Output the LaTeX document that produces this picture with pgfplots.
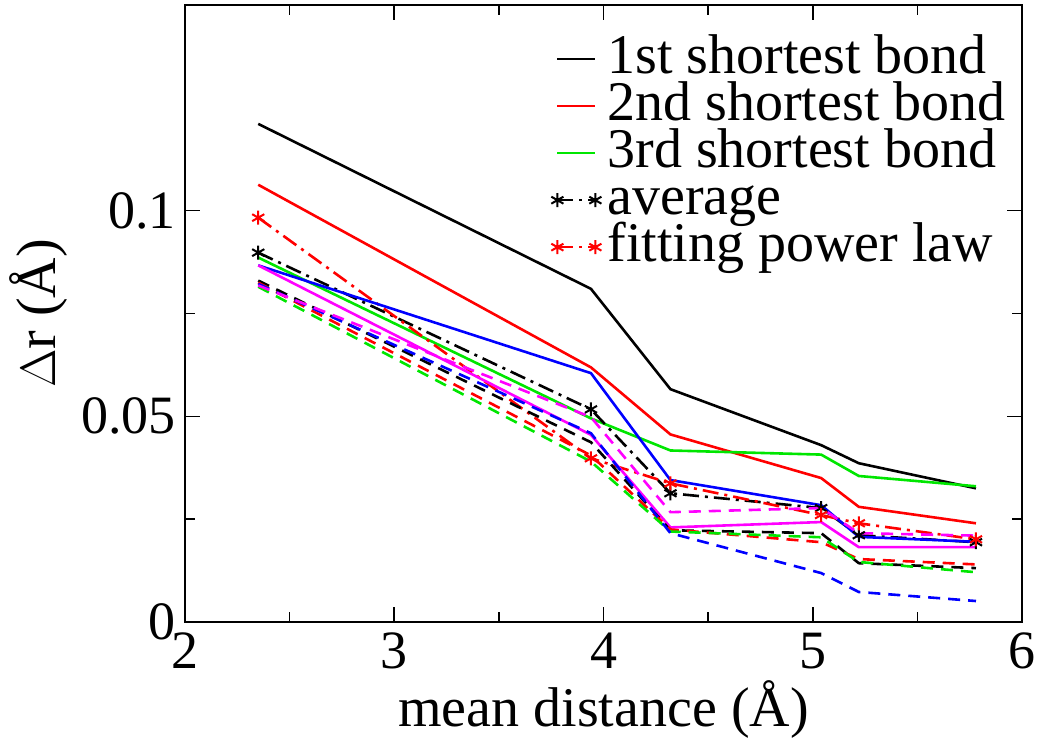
\documentclass[border=0pt]{standalone}
\usepackage{pgfplots}
\pgfplotsset{compat=1.18}
\usepackage{fontspec}
\setmainfont{Liberation Serif}
\definecolor{pgreen}{RGB}{0,230,0}
\definecolor{pmag}{RGB}{255,0,255}
\begin{document}
\begin{tikzpicture}
\path[use as bounding box] (-92.5pt,-61.5pt) rectangle (428.5pt,311pt);
\begin{axis}[
  scale only axis,
  width=418.5pt, height=308.5pt,
  xmin=2, xmax=6, ymin=0, ymax=0.15,
  xtick={2,3,4,5,6}, xticklabels={2,3,4,5,6},
  ytick={0,0.05,0.1}, yticklabels={0,0.05,0.1},
  minor x tick num=1, minor y tick num=1,
  major tick length=7.5pt, minor tick length=5pt,
  tick style={line width=0.8pt, black},
  axis line style={line width=0.8pt},
  tick label style={font=\fontsize{27}{30}\selectfont},
  /pgf/number format/assume math mode=true,
  xticklabel style={yshift=-2pt},
  yticklabel style={xshift=-1pt},
  xlabel={mean distance (Å)},
  ylabel={$\Delta$r (Å)},
  label style={font=\fontsize{28}{30}\selectfont},
  xlabel style={yshift=1pt},
  legend style={at={(0.43,0.955)}, anchor=north west, draw=none, fill=none,
    font=\fontsize{28}{28}\selectfont,
    nodes={inner ysep=0pt, inner xsep=1pt, text height=18pt, text depth=4pt},
    row sep=1.5pt, column sep=2pt},
  legend cell align=left,
  legend image code/.code={
    \draw[mark repeat=1, mark phase=1, #1, line width=1pt] plot coordinates {(0pt,0pt) (19pt,0pt)};},
  every axis plot/.append style={line width=1.3pt},
]
% in legend
\addplot[black, mark=none] coordinates {(2.35,0.1211) (3.94,0.081) (4.32,0.0566) (5.04,0.043) (5.22,0.0386) (5.78,0.0325)};
\addlegendentry{1st shortest bond}
\addplot[red, mark=none] coordinates {(2.35,0.1063) (3.94,0.0619) (4.32,0.0456) (5.04,0.035) (5.22,0.028) (5.78,0.024)};
\addlegendentry{2nd shortest bond}
\addplot[pgreen, mark=none] coordinates {(2.35,0.0886) (3.94,0.0495) (4.32,0.0417) (5.04,0.0407) (5.22,0.0355) (5.78,0.033)};
\addlegendentry{3rd shortest bond}
\addplot[black, dash pattern=on 8pt off 3pt on 1.5pt off 3pt, mark=asterisk, mark size=3.5pt, mark options={solid, line width=1pt}] coordinates {(2.35,0.0898) (3.94,0.0517) (4.32,0.0313) (5.04,0.0277) (5.22,0.0211) (5.78,0.0194)};
\addlegendentry{average}
\addplot[red, dash pattern=on 8pt off 3pt on 1.5pt off 3pt, mark=asterisk, mark size=3.5pt, mark options={solid, line width=1pt}] coordinates {(2.35,0.0983) (3.94,0.0398) (4.32,0.0337) (5.04,0.026) (5.22,0.024) (5.78,0.0201)};
\addlegendentry{fitting power law}
% others
\addplot[blue, mark=none, forget plot] coordinates {(2.35,0.0867) (3.94,0.0605) (4.32,0.0345) (5.04,0.0284) (5.22,0.0207) (5.78,0.0195)};
\addplot[pmag, mark=none, forget plot] coordinates {(2.35,0.0867) (3.94,0.0455) (4.32,0.023) (5.04,0.0243) (5.22,0.0182) (5.78,0.0182)};
\addplot[black, dash pattern=on 6pt off 4pt, mark=none, forget plot] coordinates {(2.35,0.0830) (3.94,0.0437) (4.32,0.0223) (5.04,0.0216) (5.22,0.0143) (5.78,0.0131)};
\addplot[red, dash pattern=on 6pt off 4pt, mark=none, forget plot] coordinates {(2.35,0.0825) (3.94,0.0405) (4.32,0.0225) (5.04,0.0194) (5.22,0.0153) (5.78,0.014)};
\addplot[pgreen, dash pattern=on 6pt off 4pt, mark=none, forget plot] coordinates {(2.35,0.0815) (3.94,0.039) (4.32,0.022) (5.04,0.0206) (5.22,0.0146) (5.78,0.0121)};
\addplot[blue, dash pattern=on 6pt off 4pt, mark=none, forget plot] coordinates {(2.35,0.0822) (3.94,0.0459) (4.32,0.0216) (5.04,0.0119) (5.22,0.0073) (5.78,0.0051)};
\addplot[pmag, dash pattern=on 6pt off 4pt, mark=none, forget plot] coordinates {(2.35,0.0818) (3.94,0.0498) (4.32,0.0267) (5.04,0.0277) (5.22,0.0216) (5.78,0.021)};
\end{axis}
\end{tikzpicture}
\end{document}
